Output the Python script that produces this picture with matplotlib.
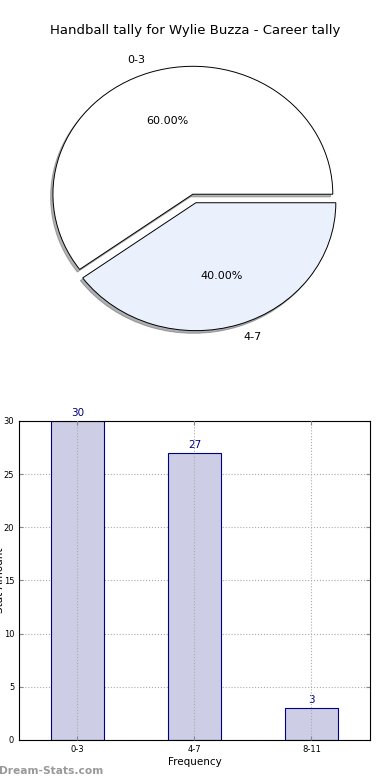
import matplotlib
matplotlib.use("Agg")
import matplotlib.pyplot as plt

title = "Handball tally for Wylie Buzza - Career tally"
pie_labels = ["0-3", "4-7"]
pie_values = [60, 40]
pie_colors = ["#ffffff", "#ebf0fd"]

bar_labels = ["0-3", "4-7", "8-11"]
bar_values = [30, 27, 3]

fig = plt.figure(figsize=(3.9, 7.8), dpi=100)

# Pie
ax1 = fig.add_axes([0.046, 0.546, 0.897, 0.41])
ax1.pie(pie_values, labels=pie_labels, colors=pie_colors, explode=[0, 0.07],
        autopct="%1.2f%%", pctdistance=0.6, labeldistance=1.1, startangle=0,
        shadow={"ox": -0.012, "oy": -0.015, "shade": 0.6},
        wedgeprops=dict(edgecolor="black", linewidth=0.7),
        textprops=dict(fontsize=8))
ax1.set_aspect("auto")
ax1.set_xlim(-1.25, 1.25)
ax1.set_ylim(-1.25, 1.25)
fig.text(0.5, 0.961, title, ha="center", va="center", fontsize=9.5)

# Bars
ax2 = fig.add_axes([0.0487, 0.0513, 0.9, 0.409])
x = list(range(len(bar_values)))
bars = ax2.bar(x, bar_values, width=0.45, color="#cdcee5", edgecolor="navy", linewidth=0.8, zorder=2)
for xi, v in zip(x, bar_values):
    ax2.text(xi, v + 0.3, str(v), ha="center", va="bottom", color="navy", fontsize=7.5)
ax2.set_xlim(-0.5, 2.5)
ax2.set_ylim(0, 30)
ax2.set_xticks(x)
ax2.set_xticklabels(bar_labels)
ax2.set_yticks(range(0, 31, 5))
ax2.tick_params(axis="both", labelsize=6, direction="in", top=True, right=True, length=3, color="#888888")
ax2.grid(True, linestyle=":", color="#aaaaaa", linewidth=0.8)
ax2.set_axisbelow(True)
ax2.xaxis.set_zorder(3)
ax2.set_xlabel("Frequency", fontsize=7.5, labelpad=2)
fig.text(-0.001, 0.256, "Stat Amount", fontsize=7.5, rotation=90, ha="center", va="center")

fig.text(-0.003, 0.012, "Dream-Stats.com", fontsize=7.7, color="#999999", fontweight="bold", ha="left", va="center")

fig.savefig("out.png", dpi=100)
